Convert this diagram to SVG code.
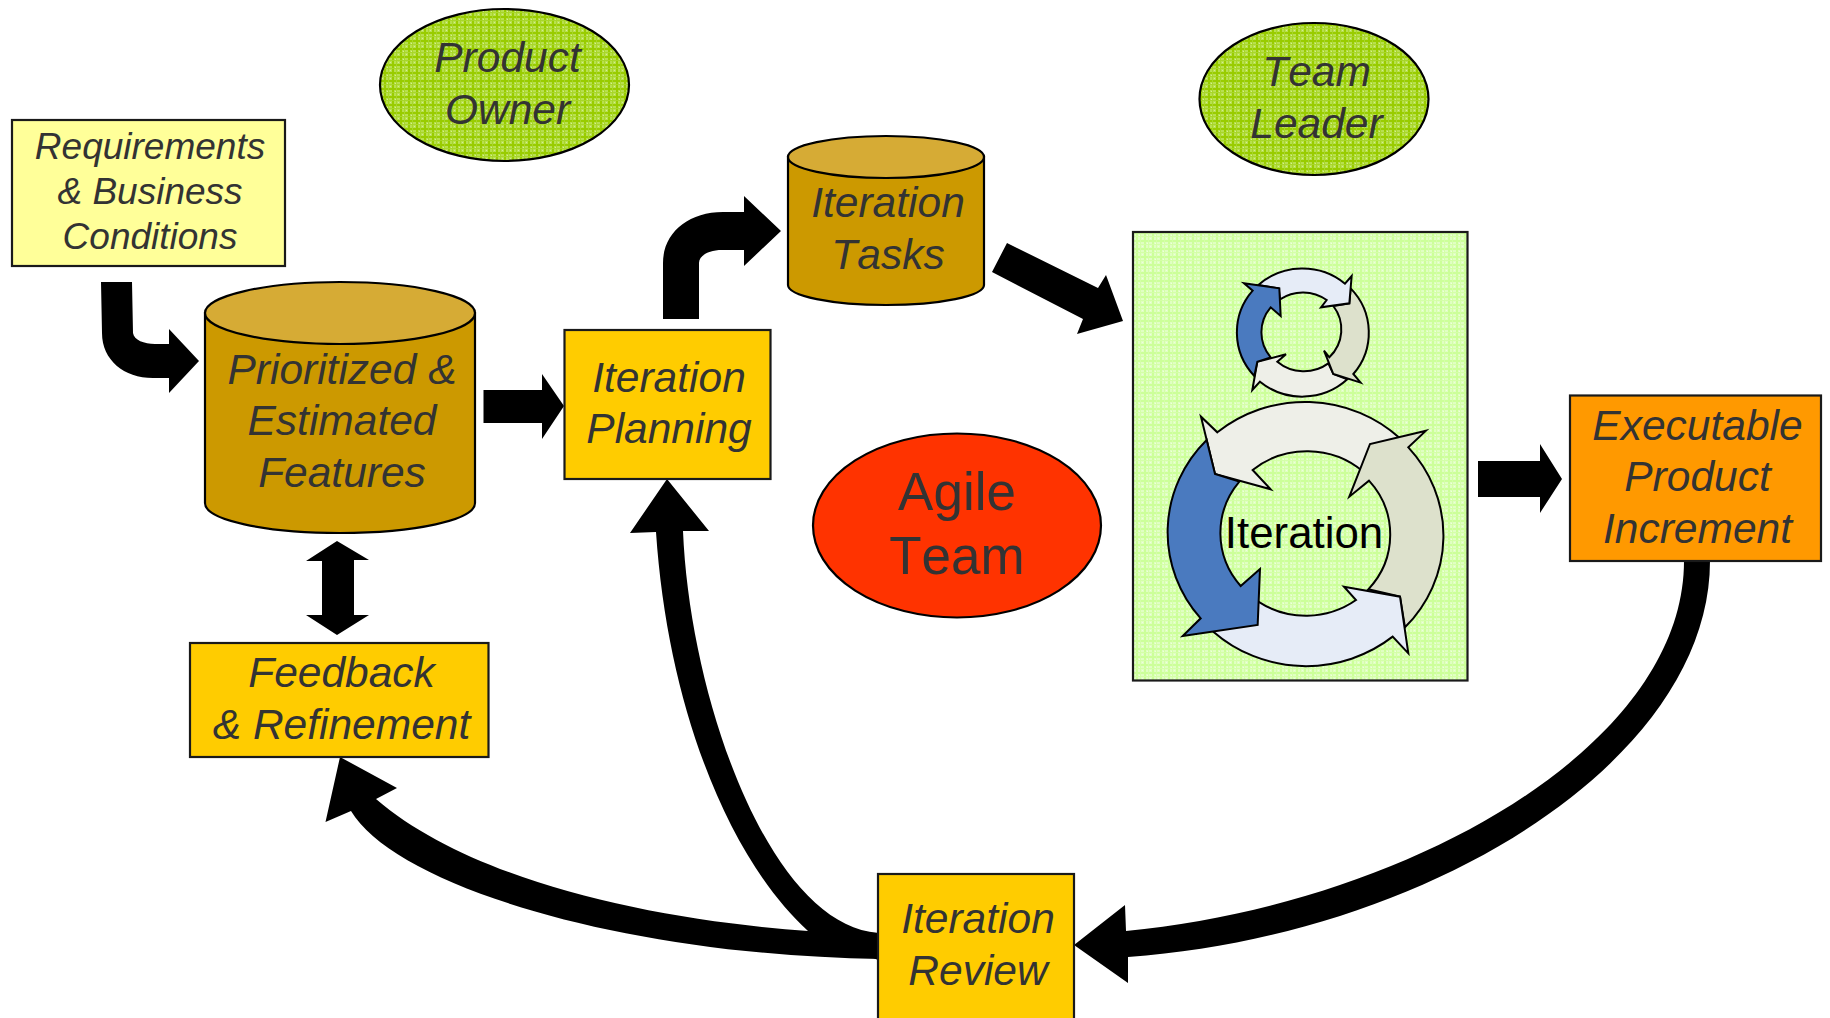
<svg xmlns="http://www.w3.org/2000/svg" width="1830" height="1018" viewBox="0 0 1830 1018">
<style>
text{font-kerning:none}
.t{font-family:"Liberation Sans",Arial,sans-serif;font-style:italic;font-size:42.5px;fill:#333;text-anchor:middle}
.s{font-size:37px}
.a{font-family:"Liberation Sans",Arial,sans-serif;font-size:53px;fill:#333;text-anchor:middle}
.b{stroke:#1a1a1a;stroke-width:2.2}
.o{stroke:#000;stroke-width:2.2}
.gold{fill:#fc0}
.body{fill:#c90}
.lid{fill:#d6ab35}
.c{fill:#000;stroke:none}
.p{stroke:#000;stroke-width:6;stroke-linejoin:miter}
</style>
<defs>
<pattern id="dk" width="8" height="8" patternUnits="userSpaceOnUse">
<rect width="8" height="8" fill="#b8e04e"/>
<rect width="2" height="8" fill="#99cc00"/>
<rect width="8" height="2" fill="#99cc00"/>
<rect x="4" width="1" height="8" fill="#a8d62a"/>
<rect y="4" width="8" height="1" fill="#a8d62a"/>
<rect x="6" y="6" width="1" height="1" fill="#d6ee93"/>
<rect x="3" y="3" width="1" height="1" fill="#d6ee93"/>
</pattern>
<pattern id="lt" width="8" height="8" patternUnits="userSpaceOnUse">
<rect width="8" height="8" fill="#e0ffc2"/>
<rect width="2" height="8" fill="#ccff99"/>
<rect width="8" height="2" fill="#ccff99"/>
<rect x="4" width="1" height="8" fill="#d4ffa8"/>
<rect y="4" width="8" height="1" fill="#d4ffa8"/>
<rect x="6" y="6" width="1" height="1" fill="#eeffdd"/>
<rect x="3" y="3" width="1" height="1" fill="#eeffdd"/>
</pattern>
</defs>
<rect width="1830" height="1018" fill="#fff"/>

<g id="connectors">
<path class="c" d="M101 282H132L133 333C134 340 144 344 155 344H169V329L199 361L169 393V378H153C124 378 102 360 102 333Z"/>
<path class="c" d="M483.500 390H542V374L564 406L542 439V423H483.500Z"/>
<path class="c" d="M663 319H699V263C699 256 708 250 722 250H744V266L781 231L744 196V212H723C688 212 663 233 663 263Z"/>
<path class="c" d="M1007 243L1098 288L1106 275L1123 321L1077 334L1083 319L992 272Z"/>
<path class="c" d="M1478 461H1540V444L1562 479L1540 513V497H1478Z"/>
<path class="c" d="M337 541L369 560H354V615H369L337 635L306 615H322V561H306Z"/>
<path class="c" d="M1684 561H1710C1710 760 1430 935 1128 957L1128 983L1074 945L1125 905L1126 931C1400 905 1684 750 1684 561Z"/>
<path class="c" d="M667 479L709 531L683 531C690 700 770 925 878 933V960L808 931C730 860 668 710 656 532L630 533Z"/>
<path class="c" d="M880 933L808 931C650 920 470 880 376 799L397 788L340 757L325.500 822L351 811C395 885 620 955 880 959Z"/>
</g>

<g id="requirements">
<rect class="b" x="12" y="120" width="273" height="146" fill="#ff9"/>
<text class="t s" x="150" y="159">Requirements</text>
<text class="t s" x="150" y="204">&amp; Business</text>
<text class="t s" x="150" y="249">Conditions</text>
</g>

<g id="product-owner">
<ellipse class="o" cx="504.500" cy="85" rx="124.500" ry="76" fill="url(#dk)"/>
<text class="t" x="507.500" y="72">Product</text>
<text class="t" x="507.500" y="124">Owner</text>
</g>

<g id="team-leader">
<ellipse class="o" cx="1314" cy="99" rx="114.500" ry="76" fill="url(#dk)"/>
<text class="t" x="1316.500" y="86">Team</text>
<text class="t" x="1316.500" y="138">Leader</text>
</g>

<g id="prioritized-features">
<path class="o body" d="M205 313V503C205 520 265 533 340 533S475 520 475 503V313Z"/>
<ellipse class="o lid" cx="340" cy="313" rx="135" ry="31"/>
<text class="t" x="342" y="384">Prioritized &amp;</text>
<text class="t" x="342" y="435">Estimated</text>
<text class="t" x="342" y="487">Features</text>
</g>

<g id="iteration-tasks">
<path class="o body" d="M788 157V285C788 296 832 305 886 305S984 296 984 285V157Z"/>
<ellipse class="o lid" cx="886" cy="157" rx="98" ry="21"/>
<text class="t" x="888" y="217">Iteration</text>
<text class="t" x="888" y="269">Tasks</text>
</g>

<g id="iteration-planning">
<rect class="b gold" x="564.500" y="330" width="206" height="149"/>
<text class="t" x="669" y="392">Iteration</text>
<text class="t" x="669" y="443">Planning</text>
</g>

<g id="agile-team">
<ellipse class="o" cx="957" cy="525.500" rx="144" ry="92" fill="#f30"/>
<text class="a" x="957" y="510">Agile</text>
<text class="a" x="957" y="574">Team</text>
</g>

<g id="iteration">
<rect class="b" x="1133" y="232" width="334.500" height="448.500" fill="url(#lt)"/>
<g transform="translate(1120 220) scale(.33333)">
<path class="p" fill="#eeefe8" d="M397 510L412 425L498 403L472 425A122 118 0 0 0 625 430L640 462L682 478A198 193 0 0 1 420 485Z"/>
<path class="p" fill="#dde1cc" d="M722 488L640 462L612 392L628 412A122 118 0 0 0 640 258L688 250L692 205A198 193 0 0 1 700 462Z"/>
<path class="p" fill="#e6ecf7" d="M695 168L688 250L603 262L620 240A122 120 0 0 0 480 238L476 205L415 195A198 193 0 0 1 675 191Z"/>
<path class="p" fill="#4a7abf" d="M372 190L478 205L482 288L452 262A122 118 0 0 0 452 412L412 425L403 468A198 193 0 0 1 398 212Z"/>
<path class="p" fill="#eeefe8" d="M243 590L285 762L452 808L398 750A255 245 0 0 1 730 755L840 655A413 397 0 0 0 292 637Z"/>
<path class="p" fill="#dde1cc" d="M918 632L750 672L688 830L747 782A255 245 0 0 1 745 1108L840 1130L855 1222A413 397 0 0 0 865 682Z"/>
<path class="p" fill="#e6ecf7" d="M865 1300L840 1130L672 1100L708 1140A255 245 0 0 1 415 1145L280 1235A413 397 0 0 0 818 1250Z"/>
<path class="p" fill="#4a7abf" d="M188 1248L413 1215L420 1047L362 1098A255 245 0 0 1 358 785L285 762L260 660A413 397 0 0 0 242 1195Z"/>
</g>
<text x="1304" y="548" font-family="'Liberation Sans',Arial,sans-serif" font-size="43.800" fill="#000" text-anchor="middle">Iteration</text>
</g>

<g id="executable-increment">
<rect class="b" x="1570" y="395.500" width="251" height="165.500" fill="#f90"/>
<text class="t" x="1697.500" y="440">Executable</text>
<text class="t" x="1697.500" y="491">Product</text>
<text class="t" x="1697.500" y="543">Increment</text>
</g>

<g id="feedback">
<rect class="b gold" x="190" y="643" width="298.500" height="114"/>
<text class="t" x="341.500" y="687">Feedback</text>
<text class="t" x="341.500" y="739">&amp; Refinement</text>
</g>

<g id="iteration-review">
<rect class="b gold" x="878" y="874" width="196" height="150"/>
<text class="t" x="978" y="933">Iteration</text>
<text class="t" x="978" y="985">Review</text>
</g>
</svg>
